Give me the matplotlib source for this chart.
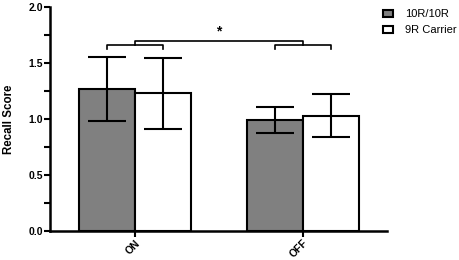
import matplotlib.pyplot as plt
from matplotlib.ticker import MultipleLocator

plt.rcParams['font.family'] = ['Liberation Sans', 'DejaVu Sans']

conditions = ['ON', 'OFF']
groups = ['10R/10R', '9R Carrier']
means = {'10R/10R': [1.27, 0.99], '9R Carrier': [1.23, 1.03]}
errors = {'10R/10R': [0.285, 0.115], '9R Carrier': [0.32, 0.19]}
colors = {'10R/10R': '#808080', '9R Carrier': 'white'}

fig = plt.figure(figsize=(4.59, 2.6), dpi=100)
ax = fig.add_axes([0.109, 0.1115, 0.734, 0.861])

w = 1 / 3
x = [0, 1]
for i, g in enumerate(groups):
    pos = [xi - w / 2 + i * w for xi in x]
    ax.bar(pos, means[g], width=w, color=colors[g], edgecolor='black',
           linewidth=1.5, label=g, zorder=2)
    ax.errorbar(pos, means[g], yerr=errors[g], fmt='none', ecolor='black',
                elinewidth=1.5, capsize=14, capthick=1.5, zorder=3)

# significance brackets
lw = 1.2
for xc in x:
    ax.plot([xc - w / 2, xc - w / 2, xc + w / 2, xc + w / 2],
            [1.63, 1.66, 1.66, 1.63], color='black', lw=lw)
ax.plot([0, 0, 1, 1], [1.66, 1.70, 1.70, 1.66], color='black', lw=lw)
ax.text(0.5, 1.72, '*', ha='center', va='bottom', fontsize=10, fontweight='bold')

ax.set_xlim(-0.506, 1.5)
ax.set_ylim(0, 2.0)
ax.set_xticks(x)
ax.set_xticklabels(conditions, rotation=45, ha='right', rotation_mode='anchor',
                   fontsize=7.5, fontweight='bold')
ax.yaxis.set_major_locator(MultipleLocator(0.5))
ax.yaxis.set_minor_locator(MultipleLocator(0.25))
ax.set_yticks([0, 0.5, 1.0, 1.5, 2.0])
ax.set_yticklabels(['0.0', '0.5', '1.0', '1.5', '2.0'], fontsize=7.5, fontweight='bold')
ax.set_ylabel('Recall Score', fontsize=8.3, fontweight='bold', labelpad=10)

for s in ['top', 'right']:
    ax.spines[s].set_visible(False)
for s in ['left', 'bottom']:
    ax.spines[s].set_linewidth(1.8)
ax.tick_params(axis='both', which='major', width=1.5, length=4, pad=1)
ax.tick_params(axis='y', which='minor', width=1.5, length=4)

ax.legend(loc='upper left', bbox_to_anchor=(0.958, 1.035), frameon=False,
          fontsize=8, handlelength=0.9, handleheight=0.55, handletextpad=1.1,
          labelspacing=0.55)

fig.savefig('out.png', dpi=100)
